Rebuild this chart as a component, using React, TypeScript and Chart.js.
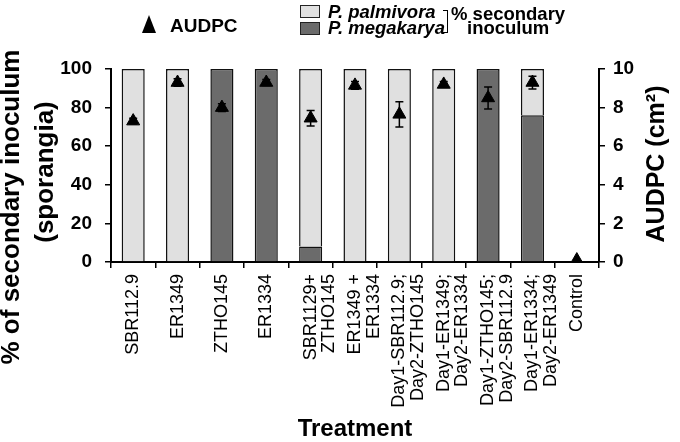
import { useEffect, useRef } from 'react'
import { Chart, registerables } from 'chart.js'

Chart.register(...registerables)

const FONT = "'Liberation Sans', Arial, sans-serif"

const treatments = [
  'SBR112.9',
  'ER1349',
  'ZTHO145',
  'ER1334',
  ['SBR1129+', 'ZTHO145'],
  ['ER1349 +', 'ER1334'],
  ['Day1-SBR112.9;', 'Day2-ZTHO145'],
  ['Day1-ER1349;', 'Day2-ER1334'],
  ['Day1-ZTHO145;', 'Day2-SBR112.9'],
  ['Day1-ER1334;', 'Day2-ER1349'],
  'Control',
]

// % of secondary inoculum
const megakarya = [0, 0, 100, 100, 8, 0, 0, 0, 100, 76, 0]
const palmivora = [100, 100, 0, 0, 92, 100, 100, 100, 0, 24, 0]

// AUDPC (cm2) and its error
const audpc = [7.3, 9.3, 8.0, 9.3, 7.45, 9.15, 7.65, 9.2, 8.5, 9.3, 0.1]
const audpcErr = [0.15, 0.2, 0.2, 0.15, 0.4, 0.2, 0.65, 0.15, 0.57, 0.33, 0]

const LIGHT = '#e0e0e0'
const DARK = '#6b6b6b'

const errorBars = {
  id: 'errorBars',
  afterDatasetsDraw(chart: Chart) {
    const meta = chart.getDatasetMeta(0)
    const y1 = chart.scales.y1
    const ctx = chart.ctx
    ctx.save()
    ctx.strokeStyle = '#000'
    ctx.lineWidth = 1.5
    meta.data.forEach((pt: any, i: number) => {
      const err = audpcErr[i]
      if (!err) return
      const top = y1.getPixelForValue(audpc[i] + err)
      const bot = y1.getPixelForValue(audpc[i] - err)
      ctx.beginPath()
      ctx.moveTo(pt.x, top)
      ctx.lineTo(pt.x, bot)
      ctx.moveTo(pt.x - 4, top)
      ctx.lineTo(pt.x + 4, top)
      ctx.moveTo(pt.x - 4, bot)
      ctx.lineTo(pt.x + 4, bot)
      ctx.stroke()
    })
    ctx.restore()
  },
}

// axis titles drawn by hand: both read bottom-to-top, and the two left lines
// are not centred on the same point
const axisTitles = {
  id: 'axisTitles',
  afterDraw(chart: Chart) {
    const { ctx } = chart
    const put = (txt: string, x: number, y: number, size: number) => {
      ctx.save()
      ctx.translate(x, y)
      ctx.rotate(-Math.PI / 2)
      ctx.font = `bold ${size}px ${FONT}`
      ctx.fillStyle = '#000'
      ctx.textAlign = 'center'
      ctx.textBaseline = 'middle'
      ctx.fillText(txt, 0, 0)
      ctx.restore()
    }
    put('% of secondary inoculum', 12, 207, 26)
    put('(sporangia)', 46, 172, 26)
    put('AUDPC (cm²)', 657, 164, 25)
  },
}

export default function App() {
  const chartRef = useRef<HTMLCanvasElement>(null)
  const chartInstance = useRef<Chart | null>(null)

  useEffect(() => {
    if (!chartRef.current) return
    if (chartInstance.current) chartInstance.current.destroy()

    chartInstance.current = new Chart(chartRef.current, {
      type: 'bar',
      data: {
        labels: treatments as any,
        datasets: [
          {
            type: 'line',
            label: 'AUDPC',
            data: audpc,
            yAxisID: 'y1',
            showLine: false,
            pointStyle: 'triangle',
            pointRadius: 7.5,
            backgroundColor: '#000',
            borderColor: '#000',
            borderWidth: 1,
            order: 0,
          } as any,
          {
            label: 'P. megakarya',
            data: megakarya,
            yAxisID: 'y',
            backgroundColor: DARK,
            borderColor: '#111',
            borderWidth: 1.5,
            order: 1,
          },
          {
            label: 'P. palmivora',
            data: palmivora,
            yAxisID: 'y',
            backgroundColor: LIGHT,
            borderColor: '#111',
            borderWidth: 1.5,
            order: 1,
          },
        ],
      },
      options: {
        responsive: false,
        animation: false,
        layout: { padding: { top: 69, left: 0, right: 0, bottom: 0 } },
        datasets: {
          bar: { categoryPercentage: 1, barPercentage: 0.52 },
        },
        plugins: {
          legend: { display: false },
          tooltip: { enabled: false },
        },
        scales: {
          x: {
            stacked: true,
            offset: true,
            grid: {
              offset: true,
              drawOnChartArea: false,
              drawTicks: true,
              tickLength: 6,
              color: '#000',
              lineWidth: 1.5,
            },
            border: { display: true, color: '#000', width: 2 },
            ticks: {
              autoSkip: false,
              maxRotation: 90,
              minRotation: 90,
              padding: 6,
              color: '#000',
              font: { family: FONT, size: 18, lineHeight: 1.04 },
            },
            title: {
              display: true,
              text: 'Treatment',
              color: '#000',
              font: { family: FONT, size: 24, weight: 'bold' },
              padding: { top: 0, bottom: -2 },
            },
            afterFit: (scale: any) => {
              scale.height = 180
            },
          },
          y: {
            stacked: true,
            position: 'left',
            min: 0,
            max: 100,
            grid: {
              drawOnChartArea: false,
              tickLength: 6,
              color: '#000',
              lineWidth: 1.5,
            },
            border: { display: true, color: '#000', width: 2 },
            ticks: {
              stepSize: 20,
              padding: 13,
              color: '#000',
              font: { family: FONT, size: 19, weight: 'bold' },
            },
            afterFit: (scale: any) => {
              scale.width = 111
            },
          },
          y1: {
            position: 'right',
            min: 0,
            max: 10,
            grid: {
              drawOnChartArea: false,
              tickLength: 6,
              color: '#000',
              lineWidth: 1.5,
            },
            border: { display: true, color: '#000', width: 2 },
            ticks: {
              stepSize: 2,
              padding: 8,
              color: '#000',
              font: { family: FONT, size: 19, weight: 'bold' },
            },
            afterFit: (scale: any) => {
              scale.width = 81
            },
          },
        },
      },
      plugins: [errorBars, axisTitles],
    })

    return () => {
      if (chartInstance.current) {
        chartInstance.current.destroy()
        chartInstance.current = null
      }
    }
  }, [])

  const text = (size: number, extra: any = {}) => ({
    position: 'absolute' as const,
    fontFamily: FONT,
    fontWeight: 'bold' as const,
    fontSize: size,
    lineHeight: 1,
    whiteSpace: 'nowrap' as const,
    color: '#000',
    ...extra,
  })

  const box = (left: number, top: number, bg: string) => ({
    position: 'absolute' as const,
    left,
    top,
    width: 20,
    height: 13,
    boxSizing: 'border-box' as const,
    background: bg,
    border: '1.5px solid #222',
  })

  return (
    <div style={{ position: 'fixed', left: 0, top: 0, width: 680, height: 442, background: '#fff' }}>
      <canvas ref={chartRef} width={680} height={442} style={{ position: 'absolute', left: 0, top: 0 }} />

      {/* legend */}
      <div
        style={{
          position: 'absolute',
          left: 142,
          top: 15,
          width: 0,
          height: 0,
          borderLeft: '7px solid transparent',
          borderRight: '7px solid transparent',
          borderBottom: '18px solid #000',
        }}
      />
      <div style={text(19, { left: 170, top: 15.7 })}>AUDPC</div>

      <div style={box(300, 5, LIGHT)} />
      <div style={box(300, 22, DARK)} />
      <div style={text(18.5, { left: 328, top: 2.5, fontStyle: 'italic' })}>P. palmivora</div>
      <div style={text(18.5, { left: 328, top: 19, fontStyle: 'italic' })}>P. megakarya</div>
      <div
        style={{
          position: 'absolute',
          left: 443,
          top: 10,
          width: 5,
          height: 23,
          boxSizing: 'border-box',
          borderTop: '1.5px solid #000',
          borderRight: '1.5px solid #000',
          borderBottom: '1.5px solid #000',
        }}
      />
      <div style={text(18.5, { left: 451, top: 5 })}>% secondary</div>
      <div style={text(18.5, { left: 467, top: 19 })}>inoculum</div>
    </div>
  )
}
